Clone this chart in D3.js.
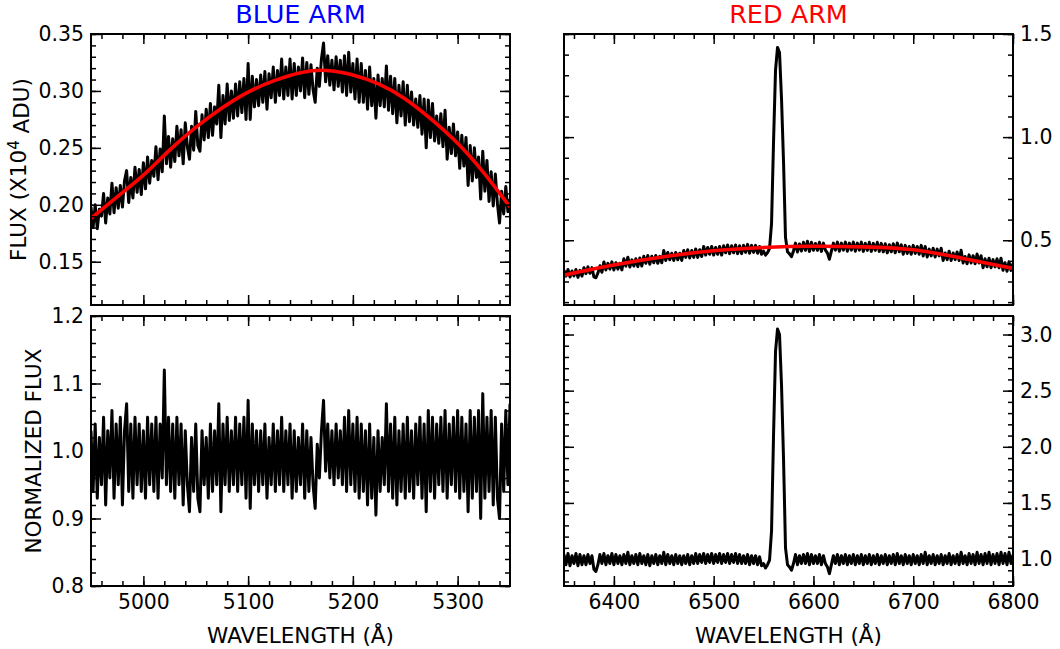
<!DOCTYPE html>
<html>
<head>
<meta charset="utf-8">
<script src="https://cdn.jsdelivr.net/npm/d3@7"></script>
<style>
  body { margin: 0; background: #fff; }
  svg { display: block; font-family: "DejaVu Sans", sans-serif; }
</style>
</head>
<body>
<svg id="chart" width="1060" height="649"></svg>
<script>
// Blue arm spectrum, 4950-5350 A sampled every 2 A
const blueStart = 4950, blueStep = 2;
const blueFlux = [
  .198,.180,.200,.179,.196,.190,.210,.184,.206,.192,
  .219,.193,.215,.197,.217,.198,.221,.230,.202,.224,
  .206,.233,.211,.231,.209,.237,.214,.242,.219,.239,
  .225,.251,.222,.249,.229,.278,.236,.260,.233,.258,
  .238,.269,.243,.266,.236,.272,.251,.240,.269,.248,
  .282,.252,.247,.279,.257,.284,.259,.289,.261,.286,
  .271,.305,.259,.296,.271,.306,.274,.300,.276,.306,
  .278,.308,.281,.311,.275,.324,.275,.313,.286,.310,
  .287,.314,.290,.317,.284,.315,.294,.321,.290,.318,
  .296,.328,.293,.321,.296,.328,.293,.324,.296,.321,
  .300,.329,.294,.325,.297,.323,.301,.290,.320,.304,
  .328,.342,.308,.331,.305,.327,.301,.330,.304,.327,
  .299,.331,.296,.334,.299,.324,.293,.328,.290,.324,
  .290,.318,.284,.321,.287,.311,.276,.314,.287,.311,
  .286,.322,.283,.313,.280,.311,.272,.305,.278,.308,
  .270,.305,.273,.299,.270,.293,.268,.296,.262,.293,
  .250,.292,.259,.289,.256,.278,.254,.280,.251,.283,
  .240,.268,.245,.271,.243,.264,.232,.261,.234,.259,
  .217,.252,.221,.250,.224,.242,.205,.247,.212,.239,
  .203,.229,.199,.227,.201,.184,.212,.192,.216,.194,
  .205
];
const blueNorm = [
  1.03,0.94,1.04,0.93,1.02,0.95,1.05,0.92,1.03,0.96,
  1.06,0.93,1.04,0.95,1.05,0.92,1.03,1.07,0.94,1.04,
  0.93,1.05,0.95,1.04,0.94,1.03,0.93,1.05,0.95,1.04,
  0.94,1.05,0.93,1.04,0.96,1.12,0.95,1.05,0.94,1.04,
  0.93,1.05,0.95,1.04,0.92,1.03,0.95,0.91,1.02,0.94,
  1.04,0.93,0.91,1.03,0.95,1.02,0.93,1.04,0.94,1.03,
  0.95,1.07,0.91,1.04,0.95,1.05,0.94,1.03,0.95,1.05,
  0.94,1.04,0.95,1.05,0.93,1.075,0.915,1.04,0.95,1.03,
  0.94,1.03,0.95,1.04,0.93,1.02,0.95,1.04,0.94,1.03,
  0.95,1.05,0.94,1.03,0.95,1.04,0.93,1.03,0.94,1.02,
  0.95,1.04,0.93,1.03,0.94,1.02,0.95,0.915,1.01,0.96,
  1.03,1.075,0.97,1.04,0.96,1.03,0.95,1.04,0.96,1.03,
  0.95,1.05,0.94,1.06,0.95,1.04,0.94,1.05,0.93,1.04,
  0.94,1.03,0.92,1.04,0.93,1.02,0.905,1.03,0.94,1.02,
  0.95,1.07,0.94,1.04,0.93,1.05,0.92,1.03,0.94,1.04,
  0.93,1.05,0.94,1.03,0.93,1.04,0.95,1.05,0.93,1.04,
  0.91,1.06,0.94,1.05,0.93,1.04,0.95,1.05,0.94,1.06,
  0.93,1.04,0.95,1.05,0.94,1.06,0.93,1.05,0.94,1.04,
  0.91,1.06,0.93,1.05,0.94,1.06,0.90,1.085,0.93,1.05,
  0.94,1.06,0.92,1.05,0.93,0.90,1.04,0.94,1.06,0.95,
  1.07
];
// continuum fit (red curve), blue arm
const blueFitWave = [4950,4975,5000,5025,5050,5075,5100,5125,5150,5175,5200,5225,5250,5275,5300,5325,5350];
const blueFitFlux = [0.188,0.207,0.226,0.248,0.268,0.285,0.299,0.309,0.316,0.318,0.314,0.306,0.293,0.275,0.254,0.228,0.198];

// Red arm spectrum, 6350-6800 A sampled every 2 A
const redStart = 6350, redStep = 2;
const redFlux = [
  .354,.326,.358,.322,.351,.327,.358,.320,.354,.326,
  .367,.338,.371,.340,.367,.322,.318,.341,.376,.345,
  .395,.356,.388,.360,.395,.356,.391,.360,.388,.356,
  .410,.374,.418,.370,.405,.375,.410,.372,.414,.375,
  .422,.388,.426,.384,.422,.391,.426,.388,.422,.391,
  .450,.402,.441,.405,.437,.402,.441,.405,.437,.402,
  .450,.417,.454,.414,.450,.417,.458,.417,.454,.421,
  .470,.428,.465,.432,.470,.428,.465,.432,.470,.428,
  .473,.439,.477,.435,.473,.439,.477,.435,.473,.435,
  .475,.441,.480,.437,.475,.441,.475,.437,.470,.432,
  .447,.428,.440,.460,.581,.977,1.325,1.435,1.410,1.186,
  .884,.514,.444,.434,.420,.448,.486,.443,.482,.448,
  .490,.451,.495,.446,.490,.451,.484,.451,.490,.446,
  .486,.452,.438,.408,.447,.486,.452,.491,.447,.486,
  .452,.491,.447,.486,.452,.491,.447,.486,.452,.491,
  .446,.485,.451,.490,.446,.485,.451,.490,.446,.485,
  .444,.483,.439,.478,.444,.483,.439,.487,.444,.478,
  .432,.475,.436,.470,.432,.475,.436,.470,.432,.475,
  .424,.470,.419,.457,.424,.461,.419,.457,.424,.461,
  .402,.438,.406,.447,.402,.438,.406,.443,.402,.451,
  .390,.421,.386,.429,.390,.425,.386,.433,.390,.425,
  .367,.410,.371,.413,.367,.406,.371,.410,.367,.413,
  .354,.391,.350,.395,.354,.387
];
const redNorm = [
  1.04,0.95,1.05,0.94,1.03,0.96,1.05,0.94,1.04,0.95,
  1.03,0.95,1.04,0.96,1.03,0.91,0.89,0.95,1.04,0.96,
  1.05,0.95,1.03,0.96,1.05,0.95,1.04,0.96,1.03,0.95,
  1.04,0.96,1.06,0.95,1.03,0.96,1.04,0.95,1.05,0.96,
  1.03,0.95,1.04,0.94,1.03,0.96,1.04,0.95,1.03,0.96,
  1.06,0.95,1.04,0.96,1.03,0.95,1.04,0.96,1.03,0.95,
  1.03,0.96,1.04,0.95,1.03,0.96,1.05,0.96,1.04,0.97,
  1.05,0.96,1.04,0.97,1.05,0.96,1.04,0.97,1.05,0.96,
  1.04,0.97,1.05,0.96,1.04,0.97,1.05,0.96,1.04,0.96,
  1.03,0.96,1.04,0.95,1.03,0.96,1.03,0.95,1.02,0.94,
  0.96,0.92,0.95,0.99,1.25,2.10,2.85,3.05,3.00,2.55,
  1.90,1.10,0.95,0.93,0.90,0.96,1.04,0.95,1.03,0.96,
  1.04,0.96,1.05,0.95,1.04,0.96,1.03,0.96,1.04,0.95,
  1.03,0.96,0.93,0.87,0.95,1.03,0.96,1.04,0.95,1.03,
  0.96,1.04,0.95,1.03,0.96,1.04,0.95,1.03,0.96,1.04,
  0.95,1.03,0.96,1.04,0.95,1.03,0.96,1.04,0.95,1.03,
  0.96,1.04,0.95,1.03,0.96,1.04,0.95,1.05,0.96,1.03,
  0.95,1.04,0.96,1.03,0.95,1.04,0.96,1.03,0.95,1.04,
  0.96,1.06,0.95,1.03,0.96,1.04,0.95,1.03,0.96,1.04,
  0.95,1.03,0.96,1.05,0.95,1.03,0.96,1.04,0.95,1.06,
  0.96,1.03,0.95,1.05,0.96,1.04,0.95,1.06,0.96,1.04,
  0.95,1.05,0.96,1.06,0.95,1.04,0.96,1.05,0.95,1.06,
  0.96,1.05,0.95,1.06,0.96,1.04
];
// continuum fit (red curve), red arm
const redFitWave = [6350,6400,6450,6500,6550,6600,6650,6700,6750,6800];
const redFitFlux = [0.331,0.380,0.420,0.449,0.465,0.471,0.468,0.454,0.412,0.364];

// ticks
const blueMajor = [5000, 5100, 5200, 5300];
const redMajor = [6400, 6500, 6600, 6700, 6800];
const blueFluxTicks = [0.15, 0.20, 0.25, 0.30, 0.35];
const redFluxTicks = [0.5, 1.0, 1.5];
const blueNormTicks = [0.8, 0.9, 1.0, 1.1, 1.2];
const redNormTicks = [1.0, 1.5, 2.0, 2.5, 3.0];

const svg = d3.select("#chart");
const tickFont = 20.4, labelFont = 21.5;

const colL = { left: 91, w: 419 };
const colR = { left: 564, w: 449 };
const rowT = { top: 34, h: 271 };
const rowB = { top: 316, h: 270 };

let clipId = 0;

function panel(o) {
    const g = svg.append("g").attr("transform", `translate(${o.col.left},${o.row.top})`);
    const w = o.col.w, h = o.row.h;
    const x = d3.scaleLinear().domain(o.xDomain).range([0, w]);
    const y = d3.scaleLinear().domain(o.yDomain).range([h, 0]);

    const cid = "clip" + (clipId++);
    g.append("clipPath").attr("id", cid)
        .append("rect").attr("width", w).attr("height", h);

    const plot = g.append("g").attr("clip-path", `url(#${cid})`);

    const line = d3.line()
        .x((d, i) => x(o.start + i * o.step))
        .y(d => y(d));

    plot.append("path")
        .datum(o.values)
        .attr("d", line)
        .attr("fill", "none")
        .attr("stroke", "#000")
        .attr("stroke-width", 3)
        .attr("stroke-linejoin", "round");

    if (o.fitWave) {
        const fitLine = d3.line()
            .x((d, i) => x(o.fitWave[i]))
            .y(d => y(d))
            .curve(d3.curveNatural);
        plot.append("path")
            .datum(o.fitFlux)
            .attr("d", fitLine)
            .attr("fill", "none")
            .attr("stroke", "#ff0000")
            .attr("stroke-width", 3.6);
    }

    // minor ticks all sides
    const minorAxes = [
        [d3.axisBottom(x), `translate(0,${h})`, o.xMinor],
        [d3.axisTop(x), null, o.xMinor],
        [d3.axisLeft(y), null, o.yMinor],
        [d3.axisRight(y), `translate(${w},0)`, o.yMinor]
    ];
    minorAxes.forEach(([ax, tr, vals]) => {
        const a = g.append("g").call(ax.tickValues(vals).tickSize(-5).tickFormat(""));
        if (tr) a.attr("transform", tr);
    });

    // major ticks
    g.append("g").attr("transform", `translate(0,${h})`)
        .call(d3.axisBottom(x).tickValues(o.xMajor).tickSize(-10).tickPadding(9)
            .tickFormat(o.xLabels ? d3.format("d") : ""));
    g.append("g").call(d3.axisTop(x).tickValues(o.xMajor).tickSize(-10).tickFormat(""));
    g.append("g")
        .call(d3.axisLeft(y).tickValues(o.yMajor).tickSize(-10).tickPadding(7)
            .tickFormat(o.yRight ? "" : d3.format(o.yFmt)));
    g.append("g").attr("transform", `translate(${w},0)`)
        .call(d3.axisRight(y).tickValues(o.yMajor).tickSize(-10).tickPadding(7)
            .tickFormat(o.yRight ? d3.format(o.yFmt) : ""));

    g.selectAll(".domain").remove();
    g.selectAll(".tick line").attr("stroke", "#000").attr("stroke-width", 1.5);
    g.selectAll(".tick text")
        .attr("fill", "#000")
        .style("font-family", "DejaVu Sans")
        .style("font-size", tickFont + "px");

    g.append("rect")
        .attr("width", w).attr("height", h)
        .attr("fill", "none")
        .attr("stroke", "#000")
        .attr("stroke-width", 2);

    return g;
}

const blueXMinor = d3.range(4960, 5350, 20);
const redXMinor = d3.range(6360, 6801, 20);

panel({
    col: colL, row: rowT, xDomain: [4950, 5350], yDomain: [0.112, 0.35],
    start: blueStart, step: blueStep, values: blueFlux,
    fitWave: blueFitWave, fitFlux: blueFitFlux,
    xMajor: blueMajor, xMinor: blueXMinor, xLabels: false,
    yMajor: blueFluxTicks, yMinor: d3.range(12, 36).map(v => v / 100), yFmt: ".2f"
});
panel({
    col: colR, row: rowT, xDomain: [6350, 6800], yDomain: [0.186, 1.5],
    start: redStart, step: redStep, values: redFlux,
    fitWave: redFitWave, fitFlux: redFitFlux,
    xMajor: redMajor, xMinor: redXMinor, xLabels: false,
    yMajor: redFluxTicks, yMinor: d3.range(2, 16).map(v => v / 10), yFmt: ".1f", yRight: true
});
panel({
    col: colL, row: rowB, xDomain: [4950, 5350], yDomain: [0.8, 1.2],
    start: blueStart, step: blueStep, values: blueNorm,
    xMajor: blueMajor, xMinor: blueXMinor, xLabels: true,
    yMajor: blueNormTicks, yMinor: d3.range(40, 61).map(v => v / 50), yFmt: ".1f"
});
panel({
    col: colR, row: rowB, xDomain: [6350, 6800], yDomain: [0.76, 3.165],
    start: redStart, step: redStep, values: redNorm,
    xMajor: redMajor, xMinor: redXMinor, xLabels: true,
    yMajor: redNormTicks, yMinor: d3.range(8, 32).map(v => v / 10), yFmt: ".1f", yRight: true
});

// titles
svg.append("text")
    .attr("x", colL.left + colL.w / 2).attr("y", 23)
    .attr("text-anchor", "middle")
    .attr("fill", "#0000ff")
    .style("font-size", "25.5px")
    .text("BLUE ARM");
svg.append("text")
    .attr("x", colR.left + colR.w / 2).attr("y", 23)
    .attr("text-anchor", "middle")
    .attr("fill", "#ff0000")
    .style("font-size", "25.5px")
    .text("RED ARM");

// x labels
[colL, colR].forEach(c => {
    svg.append("text")
        .attr("x", c.left + c.w / 2).attr("y", 643)
        .attr("text-anchor", "middle")
        .style("font-size", labelFont + "px")
        .text("WAVELENGTH (Å)");
});

// y labels
const fluxLabel = svg.append("text")
    .attr("transform", `translate(26,${rowT.top + rowT.h / 2}) rotate(-90)`)
    .attr("text-anchor", "middle")
    .style("font-size", labelFont + "px");
fluxLabel.append("tspan").text("FLUX (X10");
fluxLabel.append("tspan").attr("dy", "-0.45em").style("font-size", "15px").text("4");
fluxLabel.append("tspan").attr("dy", "0.45em").text(" ADU)");

svg.append("text")
    .attr("transform", `translate(41,${rowB.top + rowB.h / 2}) rotate(-90)`)
    .attr("text-anchor", "middle")
    .style("font-size", labelFont + "px")
    .text("NORMALIZED FLUX");
</script>
</body>
</html>
